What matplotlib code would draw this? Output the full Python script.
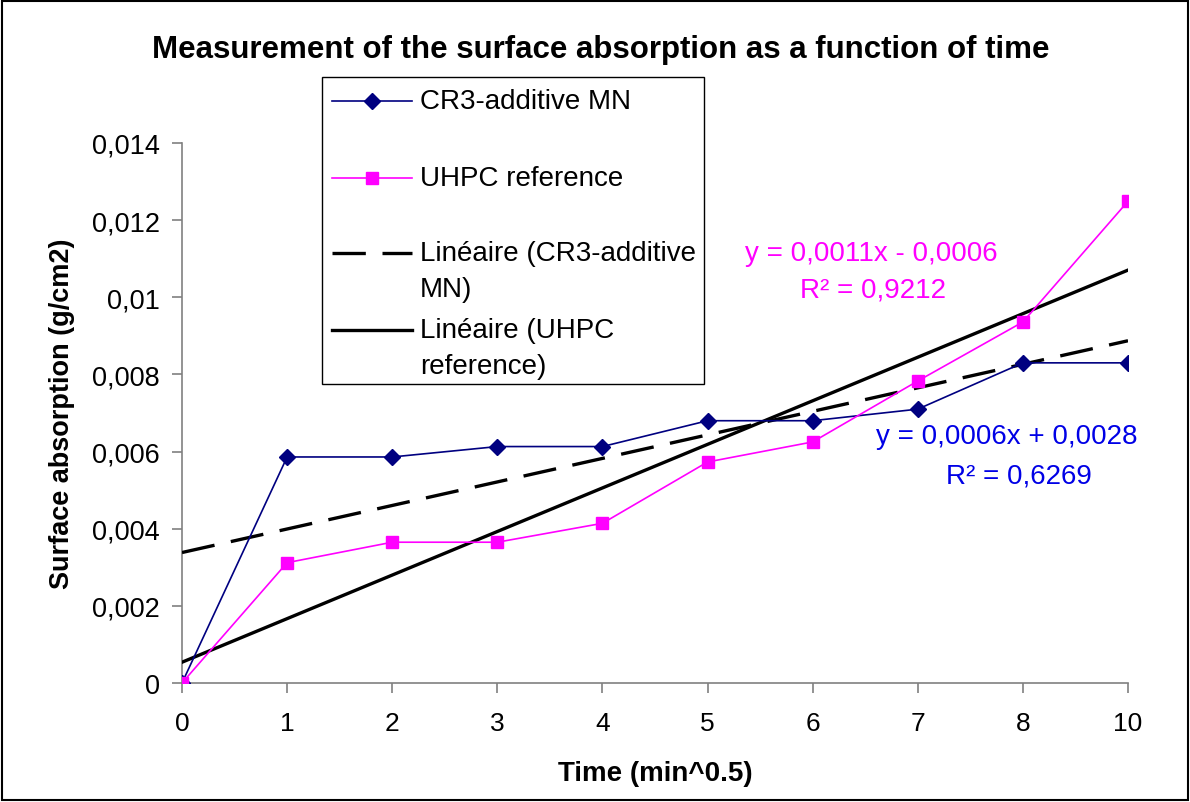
import numpy as np
import matplotlib
matplotlib.use("Agg")
import matplotlib.pyplot as plt
from matplotlib.lines import Line2D
from matplotlib.patches import Rectangle

plt.rcParams['font.family'] = ['Liberation Sans', 'DejaVu Sans']

# Data
time_labels = ["0", "1", "2", "3", "4", "5", "6", "7", "8", "10"]
cr3_additive = [0.0, 0.00586, 0.00586, 0.00613, 0.00613, 0.0068, 0.0068, 0.0071, 0.0083, 0.0083]
uhpc_reference = [0.0, 0.00312, 0.00365, 0.00365, 0.00414, 0.00573, 0.00625, 0.00783, 0.00936, 0.01249]
y_ticks = [0, 0.002, 0.004, 0.006, 0.008, 0.01, 0.012, 0.014]
y_tick_labels = ["0", "0,002", "0,004", "0,006", "0,008", "0,01", "0,012", "0,014"]

W, H = 1190, 803
fig = plt.figure(figsize=(W / 100, H / 100), dpi=100)

def fx(x):
    return x / W

def fy(y):
    return 1 - y / H

# Chart area frame
fig.patches.append(Rectangle((fx(2), fy(801)), fx(1186), 1 - 4 / H, transform=fig.transFigure,
                             fill=False, edgecolor='black', linewidth=1.5))

left, right, top, bottom = 182, 1128, 144, 684
ax = fig.add_axes([fx(left), fy(bottom), fx(right - left), (bottom - top) / H])

idx = np.arange(1, len(time_labels) + 1)

def linear_fit(x, y):
    slope, intercept = np.polyfit(x, y, 1)
    pred = slope * x + intercept
    y = np.asarray(y)
    r2 = 1 - np.sum((y - pred) ** 2) / np.sum((y - y.mean()) ** 2)
    return slope, intercept, r2

def fmt(v):
    return f"{abs(v):.4f}".replace(".", ",")

s1, b1, r1 = linear_fit(idx, cr3_additive)
s2, b2, r2 = linear_fit(idx, uhpc_reference)

navy = '#000080'
magenta = '#FF00FF'
blue = '#0000E6'

ax.plot(idx, cr3_additive, color=navy, lw=1.2, marker='D', ms=8, mfc=navy, mec=navy, zorder=4)
ax.plot(idx, uhpc_reference, color=magenta, lw=1.2, marker='s', ms=8, mfc=magenta, mec=magenta, zorder=4)
ax.plot(idx, s1 * idx + b1, color='black', lw=2.4, dashes=(10, 5), zorder=3)
ax.plot(idx, s2 * idx + b2, color='black', lw=2.4, zorder=3)

ax.set_xlim(1, len(time_labels))
ax.set_ylim(0, 0.014)
ax.set_xticks(idx)
ax.set_xticklabels(time_labels, fontsize=19)
ax.set_yticks(y_ticks)
ax.set_yticklabels(y_tick_labels, fontsize=19.5)
for s in ['top', 'right']:
    ax.spines[s].set_visible(False)
for s in ['left', 'bottom']:
    ax.spines[s].set_color('#808080')
    ax.spines[s].set_linewidth(1.2)
ax.tick_params(axis='both', direction='out', length=7, width=1.2, color='#808080')
ax.tick_params(axis='y', pad=9)
ax.tick_params(axis='x', pad=13)
ax.patch.set_alpha(0)

ax.set_xlabel("Time (min^0.5)", fontsize=20, fontweight='bold', labelpad=18)
ax.set_ylabel("Surface absorption (g/cm2)", fontsize=19.5, fontweight='bold', labelpad=12)

fig.text(fx(601), fy(50), "Measurement of the surface absorption as a function of time",
         fontsize=22.5, fontweight='bold', ha='center', va='center')

# Trendline equations
sign2 = '+' if b2 >= 0 else '-'
sign1 = '+' if b1 >= 0 else '-'
fig.text(fx(871), fy(254), f"y = {fmt(s2)}x {sign2} {fmt(b2)}", color=magenta, fontsize=20,
         ha='center', va='center')
fig.text(fx(873), fy(291), f"R² = {fmt(r2)}", color=magenta, fontsize=20, ha='center', va='center')
fig.text(fx(1007), fy(437), f"y = {fmt(s1)}x {sign1} {fmt(b1)}", color=blue, fontsize=20,
         ha='center', va='center')
fig.text(fx(1019), fy(477), f"R² = {fmt(r1)}", color=blue, fontsize=20, ha='center', va='center')

# Legend
fig.patches.append(Rectangle((fx(322), fy(385)), fx(704 - 322), (385 - 78) / H, transform=fig.transFigure,
                             facecolor='white', edgecolor='black', linewidth=1.0, zorder=10))
entries = [
    (102, dict(color=navy, lw=1.2, marker='D', ms=8, mfc=navy, mec=navy), ["CR3-additive MN"]),
    (179, dict(color=magenta, lw=1.2, marker='s', ms=8, mfc=magenta, mec=magenta), ["UHPC reference"]),
    (254, dict(color='black', lw=2.4, dashes=(10, 5)), ["Linéaire (CR3-additive", "MN)"]),
    (331, dict(color='black', lw=2.4), ["Linéaire (UHPC", "reference)"]),
]
for y0, style, lines in entries:
    if 'marker' in style:
        ln = Line2D([fx(332), fx(372), fx(412)], [fy(y0)] * 3, transform=fig.transFigure,
                    zorder=11, markevery=[1], **style)
    else:
        ln = Line2D([fx(332), fx(412)], [fy(y0)] * 2, transform=fig.transFigure, zorder=11, **style)
    fig.lines.append(ln)
    for k, t in enumerate(lines):
        fig.text(fx(420), fy(y0 + k * 36), t, fontsize=20, ha='left', va='center', zorder=12)

fig.savefig("out.png", dpi=100)
